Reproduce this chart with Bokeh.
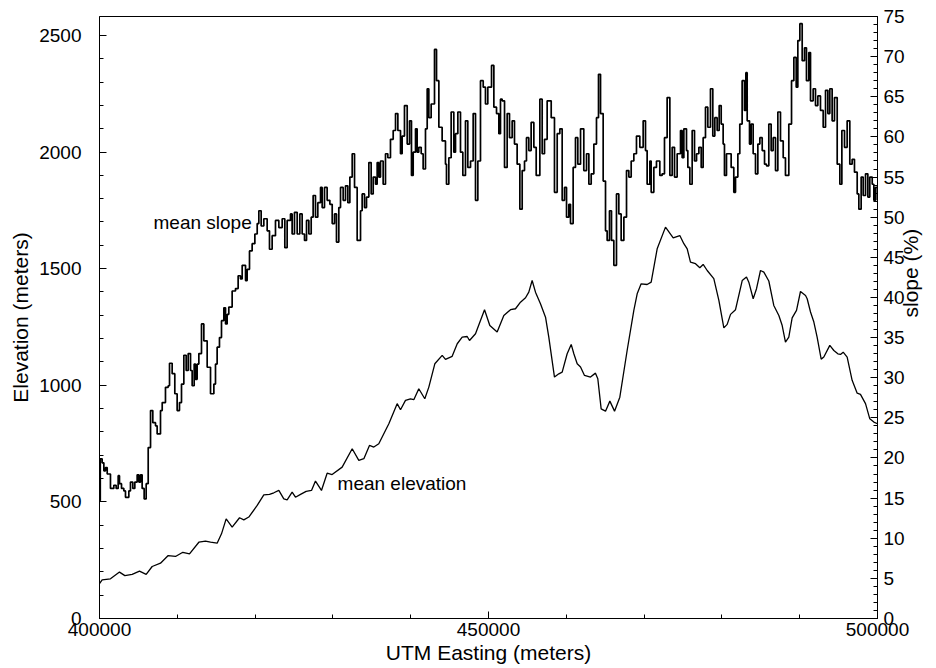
import math
from bokeh.plotting import figure
from bokeh.models import Range1d, LinearAxis, FixedTicker, BasicTickFormatter
from bokeh.core.properties import value
from bokeh.embed import file_html
from bokeh.resources import INLINE

# ---- data ----
# easting given as km east of 400000 m
slope_dx_km = [
    0.0, 0.1, 0.34, 0.56, 0.77, 0.99, 1.2, 1.41, 1.63, 1.84, 2.14, 2.4, 2.57, 2.83, 3.13, 3.34, 3.56, 3.77,
    3.98, 4.28, 4.54, 4.84, 5.06, 5.27, 5.48, 5.74, 6.0, 6.26, 6.56, 6.85, 7.2, 7.41, 7.84, 8.06, 8.48, 8.83,
    9.0, 9.34, 9.68, 9.98, 10.28, 10.54, 10.84, 11.14, 11.4, 11.7, 11.91, 12.17, 12.34, 12.55, 12.77, 13.11,
    13.41, 13.84, 14.27, 14.7, 14.91, 15.12, 15.42, 15.68, 15.98, 16.2, 16.41, 16.62, 17.05, 17.48, 17.82,
    18.12, 18.34, 18.77, 18.98, 19.28, 19.62, 19.97, 20.27, 20.48, 20.78, 21.12, 21.55, 21.85, 22.19, 22.62,
    23.05, 23.48, 23.82, 24.12, 24.55, 24.76, 25.06, 25.41, 25.75, 26.05, 26.35, 26.61, 26.91, 27.21, 27.46,
    27.76, 28.06, 28.41, 28.62, 28.92, 29.26, 29.61, 29.91, 30.21, 30.46, 30.76, 30.98, 31.32, 31.62, 31.92,
    32.18, 32.48, 32.78, 33.12, 33.55, 33.76, 34.06, 34.32, 34.62, 34.92, 35.18, 35.48, 35.69, 35.9, 36.12,
    36.46, 36.76, 37.06, 37.4, 37.75, 38.05, 38.35, 38.69, 38.9, 39.2, 39.55, 39.85, 40.1, 40.32, 40.62,
    40.83, 41.04, 41.35, 41.6, 41.9, 42.12, 42.33, 42.63, 43.06, 43.32, 43.62, 44.04, 44.47, 44.6, 44.9,
    45.2, 45.54, 45.76, 46.06, 46.4, 46.7, 47.04, 47.34, 47.69, 48.03, 48.33, 48.63, 48.97, 49.32, 49.61,
    49.91, 50.39, 50.69, 51.03, 51.33, 51.54, 51.76, 52.06, 52.4, 52.7, 53.04, 53.34, 53.68, 54.03, 54.33,
    54.63, 54.88, 55.18, 55.48, 55.83, 56.13, 56.6, 56.9, 57.2, 57.54, 58.06, 58.48, 58.83, 59.17, 59.47,
    59.77, 60.03, 60.33, 60.54, 60.88, 61.18, 61.48, 61.83, 62.25, 62.6, 62.9, 63.2, 63.54, 63.88, 64.14,
    64.4, 64.74, 65.04, 65.25, 65.55, 65.81, 66.11, 66.45, 66.75, 67.05, 67.4, 67.74, 68.04, 68.34, 68.68,
    69.02, 69.45, 69.88, 70.18, 70.39, 70.74, 70.91, 71.25, 71.59, 72.02, 72.32, 72.62, 72.96, 73.31, 73.61,
    73.91, 74.25, 74.68, 74.89, 75.11, 75.45, 75.62, 75.88, 76.18, 76.48, 76.74, 77.04, 77.34, 77.59, 77.89,
    78.19, 78.53, 78.83, 79.09, 79.39, 79.65, 79.91, 80.16, 80.33, 80.59, 80.89, 81.19, 81.53, 81.75, 82.05,
    82.3, 82.6, 82.9, 83.08, 83.25, 83.55, 83.76, 84.02, 84.32, 84.62, 84.88, 85.18, 85.48, 85.73, 86.03,
    86.33, 86.59, 86.89, 87.19, 87.53, 87.88, 88.17, 88.6, 88.95, 89.25, 89.55, 89.76, 90.02, 90.32, 90.62,
    90.87, 91.17, 91.39, 91.73, 92.03, 92.33, 92.67, 93.02, 93.32, 93.62, 93.87, 94.17, 94.47, 94.82, 95.16,
    95.42, 95.76, 96.1, 96.44, 96.74, 97.04, 97.39, 97.6, 97.9, 98.16, 98.46, 98.76, 99.01, 99.32, 99.53,
    99.74, 100.0,
]
slope_pct = [
    14.7, 19.9, 19.4, 18.4, 18.8, 18.0, 18.0, 16.2, 16.2, 16.6, 16.2, 17.8, 16.8, 16.2, 15.9, 15.1, 15.1, 15.9,
    17.0, 16.2, 17.0, 17.9, 17.0, 17.9, 16.2, 14.9, 16.8, 21.3, 25.9, 24.4, 24.0, 23.0, 25.9, 26.9, 28.8, 29.0,
    31.8, 30.5, 28.0, 25.9, 26.9, 29.2, 32.8, 30.9, 33.0, 30.9, 29.0, 31.7, 29.8, 31.7, 33.0, 36.7,
    34.6, 31.3, 28.0, 29.2, 31.7, 33.8, 35.0, 37.1, 38.7, 36.7, 37.9, 38.8, 40.8, 41.1, 42.7,
    42.3, 44.0, 42.1, 43.5, 45.8, 46.7, 47.9, 49.2, 50.8, 48.9, 49.8, 48.3, 46.0, 47.7, 49.6,
    48.7, 49.8, 46.2, 49.6, 50.4, 47.9, 50.6, 47.9, 50.4, 47.9, 47.1, 49.6, 47.9, 50.0, 52.7,
    50.0, 51.8, 53.7, 51.2, 53.7, 52.1, 51.6, 49.2, 50.4, 46.9, 51.2, 53.7, 52.1, 53.9, 51.8,
    55.0, 57.9, 53.7, 47.1, 50.8, 52.9, 51.2, 52.5, 56.8, 52.9, 55.0, 54.1, 56.8, 55.0, 57.0,
    54.1, 57.9, 57.4, 59.7, 60.8, 62.9, 60.8, 57.9, 60.1, 63.9, 59.1, 62.0, 55.2, 58.1, 61.0,
    58.1, 58.7, 57.9, 56.0, 61.0, 66.0, 62.4, 64.1, 70.9, 67.0, 61.2, 59.5, 56.6, 54.1, 57.4,
    63.1, 58.1, 60.4, 63.1, 58.1, 55.2, 62.0, 56.2, 57.0, 62.9, 52.1, 57.0, 67.0, 66.2, 64.1,
    66.2, 68.9, 63.7, 62.9, 60.4, 64.7, 64.5, 56.2, 62.9, 59.9, 62.0, 59.1, 56.6, 51.0, 55.8,
    57.0, 59.9, 58.3, 61.8, 58.7, 55.2, 64.7, 57.9, 59.7, 64.5, 62.4, 53.1, 60.4, 61.0, 52.1,
    53.7, 50.0, 51.6, 49.2, 56.2, 59.9, 56.6, 61.0, 55.8, 57.9, 54.1, 55.4, 59.1, 62.4, 67.8,
    62.9, 54.5, 48.3, 47.1, 50.8, 47.1, 44.0, 52.9, 50.4, 47.1, 50.0, 55.8, 55.0, 57.0, 57.9,
    60.1, 58.7, 62.0, 58.3, 54.1, 57.0, 53.1, 56.2, 57.0, 55.2, 55.4, 59.9, 64.9, 55.2, 58.7,
    55.0, 57.9, 60.8, 57.4, 61.0, 58.3, 56.2, 54.1, 60.8, 57.0, 57.9, 58.7, 56.2, 59.9, 63.7,
    61.2, 66.0, 60.1, 62.4, 60.8, 63.9, 61.6, 59.1, 55.2, 57.9, 57.9, 56.2, 53.1, 55.0, 57.9,
    61.6, 67.0, 63.3, 68.0, 62.0, 59.1, 61.6, 57.9, 55.4, 59.1, 59.9, 58.3, 56.6, 56.4, 61.6,
    58.3, 59.9, 55.8, 63.1, 59.5, 57.4, 55.2, 61.6, 67.0, 69.9, 66.2, 72.0, 74.1, 69.5, 71.1,
    67.0, 70.5, 64.5, 66.0, 63.9, 65.1, 63.3, 61.2, 65.8, 62.9, 66.0, 62.0, 64.9, 56.6, 54.1,
    60.8, 58.7, 62.0, 56.6, 57.2, 55.6, 52.9, 51.0, 55.0, 52.7, 55.4, 52.5, 55.0, 54.1, 52.1,
    53.7, 52.1,
]
elev_dx_km = [
    0.0, 0.34, 1.41, 2.57, 3.26, 4.2, 5.14, 6.0, 6.77, 7.84, 8.83, 9.77, 10.71, 11.57, 12.77, 13.62, 14.27,
    15.12, 15.68, 16.28, 17.05, 18.0, 18.55, 19.19, 20.27, 21.12, 21.85, 22.41, 23.05, 23.69, 24.12, 24.76,
    25.19, 25.84, 26.56, 27.25, 27.76, 28.53, 29.26, 29.9, 31.19, 32.48, 33.33, 33.98, 34.7, 35.26, 35.9,
    37.19, 38.26, 38.69, 39.33, 39.97, 40.4, 41.04, 41.81, 42.33, 43.1, 44.05, 44.47, 45.33, 45.98, 46.62,
    47.26, 47.56, 48.33, 48.97, 49.49, 50.17, 51.11, 51.97, 52.83, 53.47, 54.11, 54.76, 55.18, 55.61, 56.04,
    56.68, 57.33, 57.75, 58.48, 59.04, 59.47, 60.11, 60.63, 60.97, 61.4, 61.83, 62.34, 63.11, 63.75, 64.05,
    64.48, 65.04, 65.6, 66.2, 66.88, 67.82, 68.68, 69.11, 69.62, 70.39, 70.91, 71.68, 72.75, 73.74, 74.59,
    75.11, 75.54, 75.96, 76.61, 77.16, 77.59, 78.11, 78.96, 79.61, 80.25, 80.68, 81.11, 81.75, 82.61, 83.16,
    83.46, 84.02, 84.45, 84.96, 85.39, 86.03, 86.67, 87.32, 87.75, 88.17, 88.6, 89.03, 89.59, 90.1, 90.75,
    90.96, 91.39, 91.82, 92.24, 92.76, 93.1, 93.87, 94.39, 94.9, 95.24, 95.59, 96.1, 96.74, 97.39, 97.81,
    98.46, 99.01, 99.53, 100.0,
]
elevation_m = [
    149, 166, 170, 199, 184, 189, 203, 189, 223, 237, 270, 266, 284, 277, 327, 332, 327,
    323, 363, 427, 392, 432, 423, 435, 485, 530, 532, 539, 549, 513, 509, 542,
    520, 532, 545, 549, 589, 549, 623, 617, 649, 728, 678, 685, 742, 735, 749,
    835, 921, 895, 935, 942, 938, 985, 942, 992, 1092, 1128, 1111, 1124, 1178, 1206,
    1209, 1192, 1221, 1278, 1324, 1256, 1228, 1299, 1324, 1328, 1356, 1375, 1399, 1449, 1399,
    1349, 1292, 1206, 1035, 1049, 1056, 1135, 1175, 1135, 1092, 1078, 1042, 1035, 1052, 1028,
    899, 889, 932, 889, 949, 1149, 1321, 1392, 1435, 1432, 1442, 1585, 1678, 1632, 1642,
    1607, 1585, 1528, 1521, 1504, 1518, 1492, 1457, 1364, 1246, 1261, 1304, 1324, 1449, 1464,
    1442, 1371, 1414, 1492, 1485, 1447, 1342, 1299, 1256, 1185, 1206, 1289, 1321, 1402, 1385,
    1371, 1314, 1271, 1206, 1112, 1121, 1171, 1149, 1135, 1132, 1142, 1121, 1021, 966, 961,
    921, 856, 842, 835,
]

x_ticks = [400000, 450000, 500000]
elev_ticks = [0, 500, 1000, 1500, 2000, 2500]
slope_ticks = [0, 5, 10, 15, 20, 25, 30, 35, 40, 45, 50, 55, 60, 65, 70, 75]

slope_label = ("mean slope", 406940, 49.3)
elev_label = ("mean elevation", 430600, 580)

ORIGIN = 400000
x_slope = [ORIGIN + d * 1000 for d in slope_dx_km]
x_elev = [ORIGIN + d * 1000 for d in elev_dx_km]

FONT = "Liberation Sans"

p = figure(width=936, height=666, output_backend="svg", toolbar_location=None,
           x_range=Range1d(400000, 500000), y_range=Range1d(0, 2581),
           min_border_left=99, min_border_right=59, min_border_top=16, min_border_bottom=48,
           background_fill_color="white", border_fill_color="white",
           outline_line_color="black", outline_line_width=1)
p.extra_y_ranges = {"slope": Range1d(0, 75)}
p.grid.visible = False

p.step(x_slope, slope_pct, mode="after", y_range_name="slope", line_color="black", line_width=1.7)
p.line(x_elev, elevation_m, line_color="black", line_width=1.3)

p.text(x=[slope_label[1]], y=[slope_label[2]], text=[slope_label[0]], y_range_name="slope",
       text_font=value(FONT), text_font_size="19px", text_color="black",
       text_align="left", text_baseline="middle")
p.text(x=[elev_label[1]], y=[elev_label[2]], text=[elev_label[0]],
       text_font=value(FONT), text_font_size="19px", text_color="black",
       text_align="left", text_baseline="middle")


def style(ax, label_standoff, axis_standoff):
    ax.axis_line_color = "black"
    ax.axis_line_width = 1
    ax.major_tick_in = 7
    ax.major_tick_out = 0
    ax.minor_tick_in = 4
    ax.minor_tick_out = 0
    ax.major_tick_line_color = "black"
    ax.minor_tick_line_color = "black"
    ax.major_label_text_font = FONT
    ax.major_label_text_font_size = "19px"
    ax.major_label_text_color = "black"
    ax.major_label_standoff = label_standoff
    ax.axis_label_text_font = FONT
    ax.axis_label_text_font_size = "21px"
    ax.axis_label_text_font_style = "normal"
    ax.axis_label_text_color = "black"
    ax.axis_label_standoff = axis_standoff


xa = p.xaxis[0]
xa.ticker = FixedTicker(ticks=x_ticks, minor_ticks=list(range(400000, 500001, 10000)))
xa.formatter = BasicTickFormatter(use_scientific=False)
xa.axis_label = "UTM Easting (meters)"
style(xa, 4, 2)

ya = p.yaxis[0]
ya.ticker = FixedTicker(ticks=elev_ticks, minor_ticks=list(range(0, 2600, 100)))
ya.axis_label = "Elevation (meters)"
style(ya, 18, 4)

ra = LinearAxis(y_range_name="slope", axis_label="slope (%)",
                ticker=FixedTicker(ticks=slope_ticks, minor_ticks=list(range(0, 76))))
style(ra, 6, 3)
try:
    ra.axis_label_orientation = math.pi / 2
except Exception:
    pass
p.add_layout(ra, "right")

open("out.html", "w").write(file_html(p, INLINE))
